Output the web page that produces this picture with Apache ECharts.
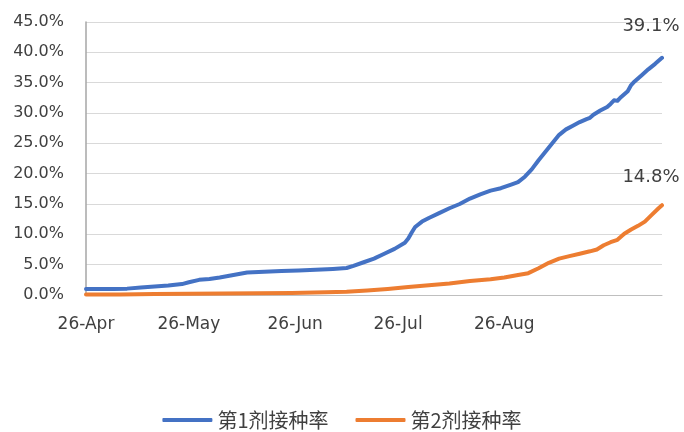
<!DOCTYPE html>
<html>
<head>
<meta charset="utf-8">
<script src="https://cdn.jsdelivr.net/npm/echarts@6/dist/echarts.min.js"></script>
<style>html,body{margin:0;padding:0;background:#fff}#c{width:684px;height:432px}</style>
</head>
<body>
<div id="c"></div>
<script>
// x positions: days since 26-Apr
const tickDays = [0, 30, 61, 91, 122];
const tickLabels = ['26-Apr', '26-May', '26-Jun', '26-Jul', '26-Aug'];
const seriesNames = ['第1剂接种率', '第2剂接种率'];

const days1 = [0,4,8,12,16,20,24,28,30,33,36,39,43,47,52,57,62,67,72,76,78,81,84,87,90,93,94,95,96,98,100,103,106,109,112,115,118,121,124,126,128,130,132,134,136,138,140,142,144,146,147,148,150,152,153,154,155,156,158,159,160,162,164,166,168];
const dose1 = [1.0,1.0,1.0,1.05,1.25,1.4,1.55,1.8,2.1,2.5,2.65,2.9,3.3,3.7,3.85,3.95,4.05,4.15,4.3,4.45,4.8,5.4,6.0,6.8,7.6,8.6,9.3,10.3,11.2,12.1,12.7,13.5,14.3,15.0,15.9,16.6,17.2,17.6,18.2,18.6,19.5,20.7,22.2,23.6,25.0,26.4,27.3,27.9,28.5,29.0,29.2,29.7,30.4,31.0,31.5,32.1,32.0,32.6,33.6,34.6,35.2,36.2,37.2,38.1,39.1];

const days2 = [0,10,20,30,40,50,60,70,76,82,88,94,100,106,112,118,122,126,129,132,135,138,141,144,147,149,151,153,155,157,159,161,163,165,167,168];
const dose2 = [0.1,0.1,0.15,0.2,0.25,0.28,0.35,0.45,0.55,0.75,1.0,1.3,1.6,1.9,2.3,2.6,2.9,3.3,3.6,4.4,5.3,6.0,6.4,6.8,7.2,7.5,8.2,8.7,9.1,10.1,10.8,11.4,12.1,13.2,14.3,14.8];

const colors = ['#4472C4', '#ED7D31'];
const txt = '#404040';

function build(days, vals, offset) {
  return vals.map((v, i) => {
    if (i === vals.length - 1) {
      return {
        value: [days[i], v],
        label: {
          show: true, position: 'top', offset: offset,
          formatter: v.toFixed(1) + '%',
          fontFamily: 'DejaVu Sans', fontSize: 18, color: txt
        }
      };
    }
    return [days[i], v];
  });
}

const chart = echarts.init(document.getElementById('c'), null, {renderer: 'canvas'});
chart.setOption({
  animation: false,
  color: colors,
  grid: {left: 86, right: 22, top: 22, bottom: 137, containLabel: false},
  legend: {
    data: seriesNames,
    top: 405,
    left: 'center',
    icon: 'roundRect',
    itemWidth: 50,
    itemHeight: 4,
    itemGap: 27,
    textStyle: {fontFamily: 'Noto Sans CJK SC', fontSize: 20, color: txt}
  },
  xAxis: {
    type: 'value',
    min: 0, max: 168, interval: 1,
    axisLine: {show: true, lineStyle: {color: '#bfbfbf', width: 1}},
    axisTick: {show: false},
    splitLine: {show: false},
    axisLabel: {
      margin: 21,
      fontFamily: 'DejaVu Sans', fontSize: 17, color: txt,
      formatter: function (v) {
        const k = tickDays.indexOf(v);
        return k >= 0 ? tickLabels[k] : '';
      }
    }
  },
  yAxis: {
    type: 'value',
    min: 0, max: 45, interval: 5,
    axisLine: {show: true, lineStyle: {color: '#a6a6a6', width: 1.5}},
    axisTick: {show: false},
    splitLine: {show: true, lineStyle: {color: '#d9d9d9', width: 1}},
    axisLabel: {
      margin: 22,
      fontFamily: 'DejaVu Sans', fontSize: 16, color: txt,
      formatter: v => v.toFixed(1) + '%'
    }
  },
  series: [
    {
      name: seriesNames[0], type: 'line', symbol: 'circle', symbolSize: 0.01, showSymbol: true, smooth: false,
      clip: false,
      lineStyle: {width: 4, color: colors[0], cap: 'round', join: 'round'},
      itemStyle: {color: colors[0]},
      data: build(days1, dose1, [-11, -17])
    },
    {
      name: seriesNames[1], type: 'line', symbol: 'circle', symbolSize: 0.01, showSymbol: true, smooth: false,
      clip: false,
      lineStyle: {width: 4, color: colors[1], cap: 'round', join: 'round'},
      itemStyle: {color: colors[1]},
      data: build(days2, dose2, [-11, -14])
    }
  ]
});
</script>
</body>
</html>
